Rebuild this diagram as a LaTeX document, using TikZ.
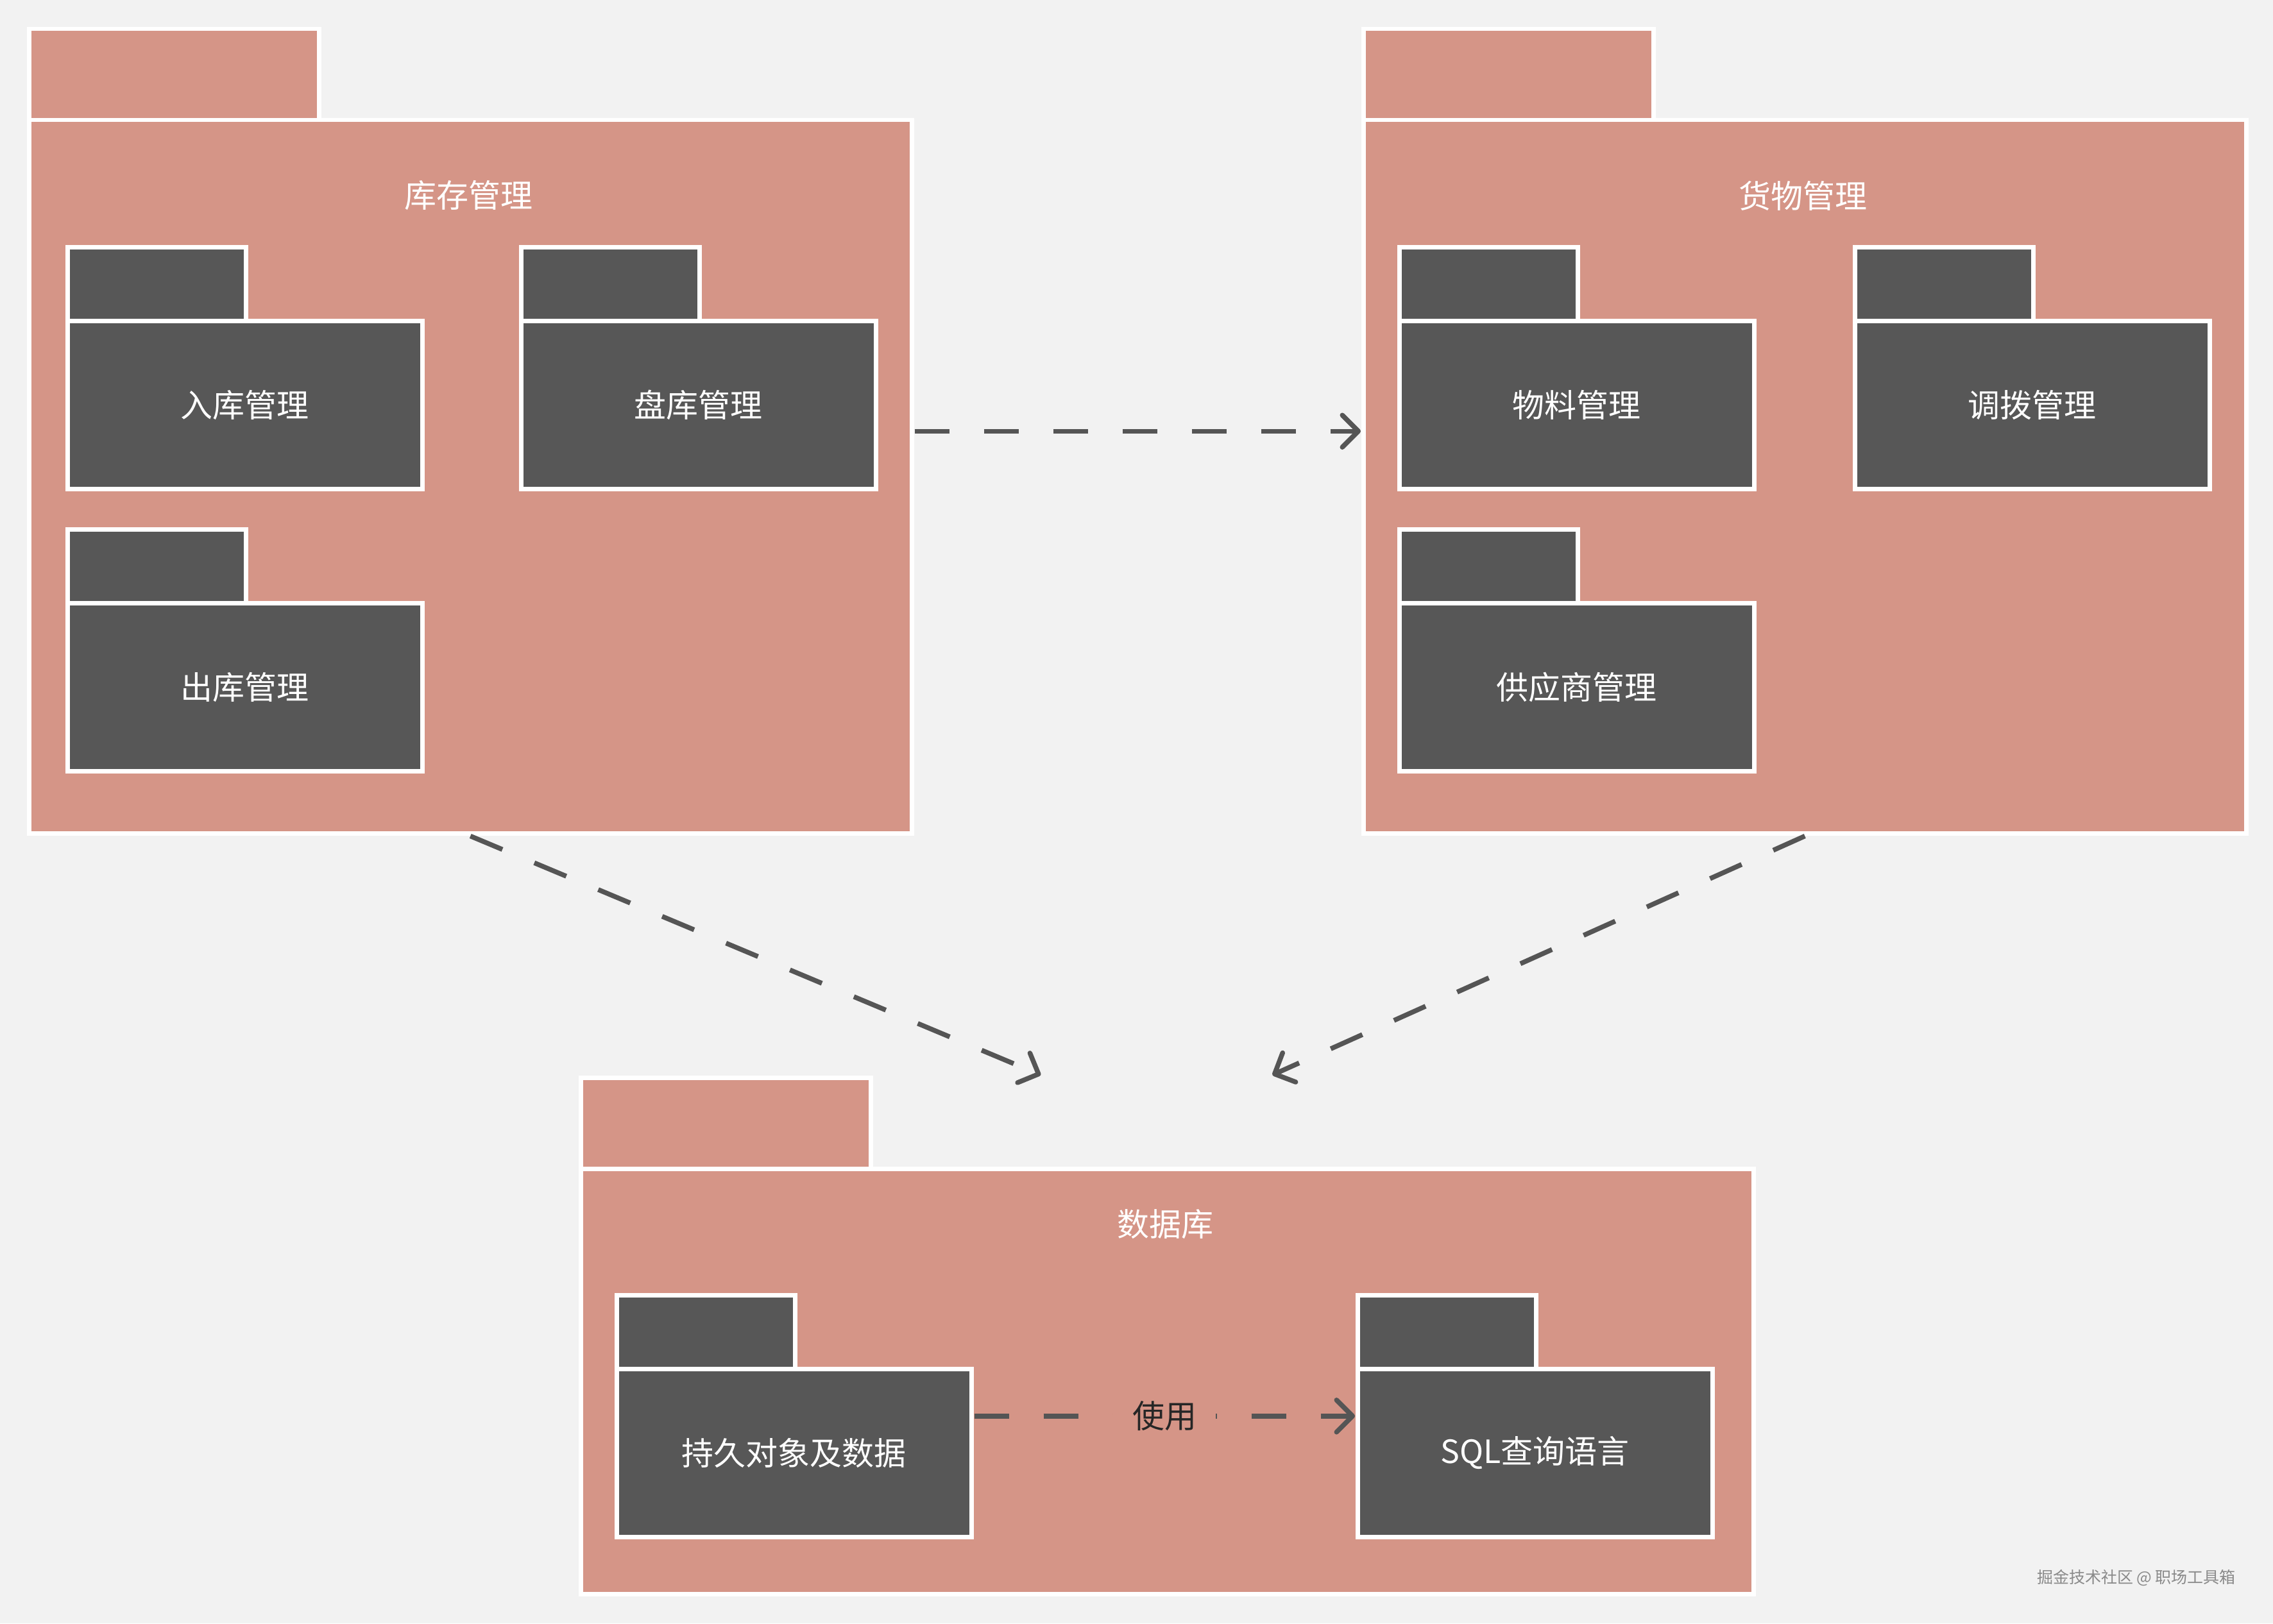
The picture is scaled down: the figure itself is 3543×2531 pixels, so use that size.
\documentclass[tikz,border=0pt]{standalone}
\usepackage{fontspec}
\setmainfont{Noto Sans CJK SC}
\usetikzlibrary{arrows.meta,fit}
\definecolor{bgc}{HTML}{F2F2F2}
\definecolor{pinkc}{HTML}{D59587}
\definecolor{darkc}{HTML}{575757}
\definecolor{arrc}{HTML}{555555}
\definecolor{wmc}{HTML}{8A8A8A}
\newcommand\lblfont{\fontsize{10pt}{12pt}\selectfont}
\begin{document}
\begin{tikzpicture}[x=0.2pt,y=-0.2pt,
  boxbase/.style={draw=white, line width=1.3pt, rectangle, anchor=north west, inner sep=0pt},
  pkgtab/.style={boxbase, fill=pinkc, minimum width=90.4pt, minimum height=28.4pt},
  pkgbody/.style={boxbase, fill=pinkc},
  intab/.style={boxbase, fill=darkc, minimum width=55.6pt, minimum height=23pt},
  inbody/.style={boxbase, fill=darkc, minimum width=110.6pt, minimum height=52.4pt, text=white, font=\lblfont},
  pkglabel/.style={text=white, font=\lblfont, inner sep=0pt},
  bbox/.style={inner sep=0pt},
  dep/.style={draw=arrc, line width=1.5pt, dash pattern=on 10.8pt off 10.8pt,
    -{Straight Barb[length=5pt,width=10pt,round]}},
  uselbl/.style={fill=pinkc, text=black!85, font=\lblfont, inner xsep=6pt, inner ysep=2pt},
  wm/.style={text=wmc, font=\fontsize{5pt}{6pt}\selectfont, inner sep=0pt}
]
\fill[bgc] (0,0) rectangle (3543,2531);
\useasboundingbox (0,0) rectangle (3543,2531);

% ---------- Package A: 库存管理 ----------
\node[pkgtab] (Atab) at (42,42) {};
\node[pkgbody, minimum width=275.2pt, minimum height=222.4pt] (Abody) at (42,184) {};
\node[bbox, fit=(Atab)(Abody)] (A) {};
\node[pkglabel] (Alabel) at (730,305) {库存管理};
\node[intab] (a1tab) at (102,382) {};
\node[inbody] (a1) at (102,497) {入库管理};
\node[intab] (a2tab) at (809,382) {};
\node[inbody] (a2) at (809,497) {盘库管理};
\node[intab] (a3tab) at (102,822) {};
\node[inbody] (a3) at (102,937) {出库管理};

% ---------- Package B: 货物管理 ----------
\node[pkgtab] (Btab) at (2122,42) {};
\node[pkgbody, minimum width=275.2pt, minimum height=222.4pt] (Bbody) at (2122,184) {};
\node[bbox, fit=(Btab)(Bbody)] (B) {};
\node[pkglabel] (Blabel) at (2810,305) {货物管理};
\node[intab] (b1tab) at (2178,382) {};
\node[inbody] (b1) at (2178,497) {物料管理};
\node[intab] (b2tab) at (2888,382) {};
\node[inbody] (b2) at (2888,497) {调拨管理};
\node[intab] (b3tab) at (2178,822) {};
\node[inbody] (b3) at (2178,937) {供应商管理};

% ---------- Package C: 数据库 ----------
\node[pkgtab] (Ctab) at (902,1677) {};
\node[pkgbody, minimum width=365.6pt, minimum height=132.6pt] (Cbody) at (902,1819) {};
\node[bbox, fit=(Ctab)(Cbody)] (C) {};
\node[pkglabel] (Clabel) at (1816,1909) {数据库};
\node[intab] (c1tab) at (958,2016) {};
\node[inbody] (c1) at (958,2131) {持久对象及数据};
\node[bbox, fit=(c1tab)(c1)] (C1) {};
\node[intab] (c2tab) at (2113,2016) {};
\node[inbody] (c2) at (2113,2131) {SQL查询语言};
\node[bbox, fit=(c2tab)(c2)] (C2) {};

% ---------- Connectors ----------
\coordinate (CinA) at ([xshift=-39.4pt]C.north);
\coordinate (CinB) at ([xshift=32.8pt]C.north);
\draw[dep] (A.east) -- (B.west);
\draw[dep] (A.south) -- (CinA);
\draw[dep] (B.south) -- (CinB);
\draw[dep] (C1.east) -- node[uselbl] (use) {使用} (C2.west);

% ---------- Watermark ----------
\node[wm] (wm) at (3330,2460) {掘金技术社区 @ 职场工具箱};
\end{tikzpicture}
\end{document}
